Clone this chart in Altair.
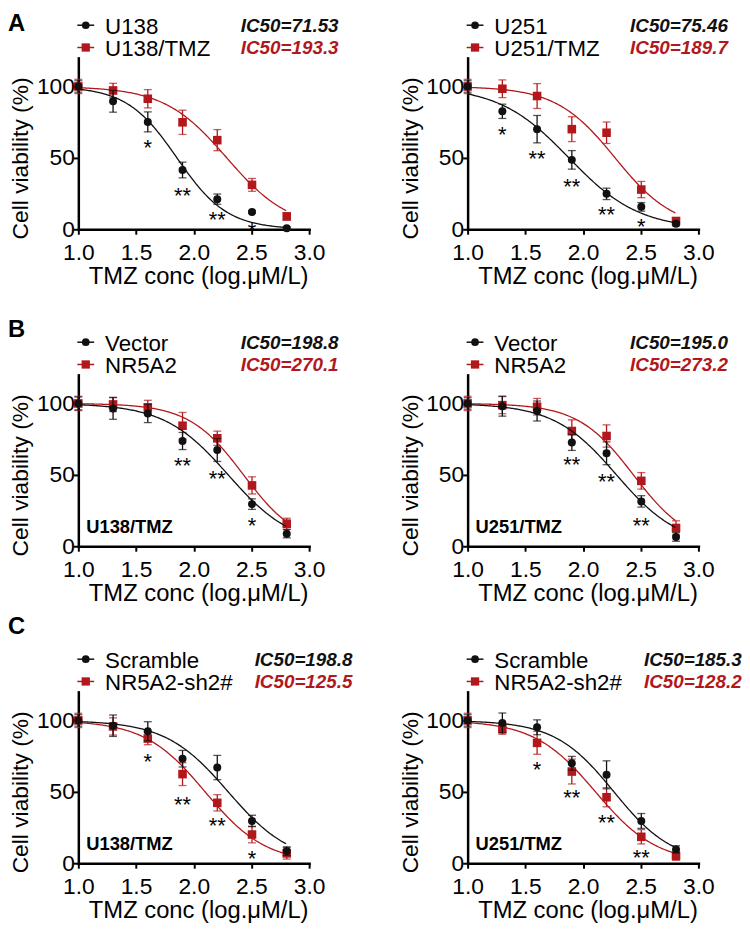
import altair as alt
import pandas as pd

FONT = "Liberation Sans"
BLACK = "#111111"
RED = "#B2181B"

# log10 of TMZ concentrations 10..640 uM
DOSE = [1.0, 1.301, 1.602, 1.903, 2.204, 2.505, 2.806]

# ---------------- Panel A (left) ----------------
A1_labels = ["U138", "U138/TMZ"]
A1_ic50 = ["71.53", "193.3"]
A1_hill = [2.0, 1.6]
A1_black = [100, 89.6, 75.2, 41.5, 21.1, 12.1, 0.7]
A1_black_err = [4, 7.6, 7, 5.5, 3.6, 1, 1]
A1_red = [100, 97.2, 91.4, 74.9, 62.4, 31.1, 9.0]
A1_red_err = [5, 5, 6.4, 8.5, 7.4, 4.5, 2.5]
A1_star_x = [1.602, 1.903, 2.204, 2.505]
A1_star_t = ["*", "**", "**", "*"]
A1_star_y = [61.3, 27.4, 10.4, 3.2]

# ---------------- Panel A (right) ----------------
A2_labels = ["U251", "U251/TMZ"]
A2_ic50 = ["75.46", "189.7"]
A2_hill = [1.43, 1.7]
A2_black = [100, 82.6, 70.1, 48.6, 24.8, 15.7, 3.9]
A2_black_err = [4, 5, 9.6, 6.5, 4, 3, 1.5]
A2_red = [100, 98.4, 93.3, 70.1, 67.6, 27.8, 5.8]
A2_red_err = [5, 6.2, 8.7, 8.7, 7.5, 5.7, 2]
A2_star_x = [1.301, 1.602, 1.903, 2.204, 2.505]
A2_star_t = ["*", "**", "**", "**", "*"]
A2_star_y = [70.4, 53, 34, 13.9, 5.8]

# ---------------- Panel B (left) ----------------
B1_labels = ["Vector", "NR5A2"]
B1_ic50 = ["198.8", "270.1"]
B1_hill = [1.57, 1.84]
B1_black = [100, 96.5, 93, 73.7, 67.4, 29.5, 8.8]
B1_black_err = [4.5, 7.6, 6.4, 6, 8, 3.7, 2.9]
B1_red = [100, 99.3, 97.2, 84.4, 75.6, 42.6, 15.8]
B1_red_err = [5, 5, 5, 9.3, 5, 6, 3.8]
B1_star_x = [1.903, 2.204, 2.505]
B1_star_t = ["**", "**", "*"]
B1_star_y = [60, 51.2, 18.6]

# ---------------- Panel B (right) ----------------
B2_labels = ["Vector", "NR5A2"]
B2_ic50 = ["195.0", "273.2"]
B2_hill = [1.6, 1.81]
B2_black = [100, 98.1, 94.7, 72.6, 65.1, 31.4, 6.5]
B2_black_err = [4, 7, 7, 5.5, 8, 4, 3]
B2_red = [100, 98.8, 97.7, 80.7, 77.2, 45.8, 12.8]
B2_red_err = [5, 6, 5.8, 7.8, 7.8, 5.8, 5]
B2_star_x = [1.903, 2.204, 2.505]
B2_star_t = ["**", "**", "**"]
B2_star_y = [60.9, 48.8, 18.6]

# ---------------- Panel C (left) ----------------
C1_labels = ["Scramble", "NR5A2-sh2#"]
C1_ic50 = ["198.8", "125.5"]
C1_hill = [1.6, 1.65]
C1_black = [100, 96.3, 92.4, 73.2, 67, 29.6, 8.5]
C1_black_err = [4, 7.5, 6.7, 5.8, 8.5, 4, 3]
C1_red = [100, 95.8, 87.3, 62.4, 42.3, 20.1, 6.9]
C1_red_err = [5, 6, 4.3, 8, 5.7, 5.8, 4]
C1_star_x = [1.602, 1.903, 2.204, 2.505]
C1_star_t = ["*", "**", "**", "*"]
C1_star_y = [75, 45, 30, 6.9]

# ---------------- Panel C (right) ----------------
C2_labels = ["Scramble", "NR5A2-sh2#"]
C2_ic50 = ["185.3", "128.2"]
C2_hill = [1.7, 1.63]
C2_black = [100, 98.2, 95.2, 70, 61.9, 29.6, 9.7]
C2_black_err = [4, 7, 5.2, 4.8, 9.8, 5.2, 2.5]
C2_red = [100, 94.2, 84.3, 64.2, 46.2, 18.5, 5.1]
C2_red_err = [5, 3.9, 8, 8.7, 6.7, 5, 3]
C2_star_x = [1.602, 1.903, 2.204, 2.505]
C2_star_t = ["*", "**", "**", "**"]
C2_star_y = [69.3, 49.7, 32.3, 7.6]

CELL_LINES = ["", "", "U138/TMZ", "U251/TMZ", "U138/TMZ", "U251/TMZ"]
LETTERS = ["A", "", "B", "", "C", ""]

W, H = 233, 173

XS = alt.Scale(domain=[1, 3], nice=False, zero=False)
YS = alt.Scale(domain=[0, 120], nice=False, zero=False)
XA = alt.Axis(values=[1, 1.5, 2, 2.5, 3], format=".1f", labelFontSize=23,
              labelColor="black", labelFlush=False, labelOverlap=False,
              labelPadding=7.5, tickSize=5, tickWidth=2, tickColor="black",
              domainColor="black", domainWidth=2.5, domainCap="square",
              grid=False, titleFontSize=24, titleFontWeight="normal",
              titleColor="black", titleX=121, titleY=48,
              titleBaseline="middle", titleAlign="center")
YA = alt.Axis(values=[0, 50, 100], labelFontSize=23, labelColor="black",
              labelPadding=-1, tickSize=5, tickWidth=2, tickColor="black",
              domainColor="black", domainWidth=2.5, domainCap="square",
              grid=False, titleFontSize=23, titleFontWeight="normal",
              titleColor="black", titleX=-58, titleY=101, titleAngle=270,
              titleBaseline="middle", titleAlign="center")
XT = "TMZ conc (log.μM/L)"
YT = "Cell viability (%)"


def X(f):
    return alt.X(f"{f}:Q", scale=XS, axis=XA, title=XT)


def Y(f):
    return alt.Y(f"{f}:Q", scale=YS, axis=YA, title=YT)


def series_layers(vals, errs, ic, hill, color, shape, size):
    df = pd.DataFrame({"dose": DOSE, "v": vals,
                       "lo": [v - e for v, e in zip(vals, errs)],
                       "hi": [v + e for v, e in zip(vals, errs)]})
    curve = alt.Chart(alt.sequence(1.0, 2.8061, 0.01, as_="dose")).transform_calculate(
        v=f"100/(1+pow(10,(datum.dose - log({ic})/LN10)*{hill}))"
    ).mark_line(color=color, strokeWidth=1.3).encode(x=X("dose"), y=Y("v"))
    base = alt.Chart(df)
    rule = base.mark_rule(color=color, strokeWidth=1.3).encode(
        x=X("dose"), y=Y("lo"), y2="hi:Q")
    cap1 = base.mark_tick(color=color, orient="horizontal", size=8,
                          thickness=1.3).encode(x=X("dose"), y=Y("lo"))
    cap2 = base.mark_tick(color=color, orient="horizontal", size=8,
                          thickness=1.3).encode(x=X("dose"), y=Y("hi"))
    pts = base.mark_point(filled=True, shape=shape, size=size, color=color,
                          opacity=1).encode(x=X("dose"), y=Y("v"))
    return [curve, rule, cap1, cap2, pts]


def panel(idx, labels, ic50, hill, black, black_err, red, red_err,
          star_x, star_t, star_y, letter_y, ic_x):
    layers = []
    layers += series_layers(red, red_err, ic50[1], hill[1], RED, "square", 75)
    layers += series_layers(black, black_err, ic50[0], hill[0], BLACK, "circle", 65)

    sdf = pd.DataFrame({"dose": star_x, "v": star_y, "t": star_t})
    layers.append(alt.Chart(sdf).mark_text(fontSize=22, baseline="middle",
                                           align="center", dy=6, color="black")
                  .encode(x=X("dose"), y=Y("v"), text="t:N"))

    # legend (drawn)
    for k, (lab, color, shape, size, ly) in enumerate(
            [(labels[0], BLACK, "circle", 60, -33), (labels[1], RED, "square", 70, -10.5)]):
        ldf = pd.DataFrame({"label": [lab], "ic": ["IC50=" + ic50[k]]})
        lb = alt.Chart(ldf)
        layers.append(lb.mark_rule(color=color, strokeWidth=1.5).encode(
            x=alt.value(-1), x2=alt.value(16), y=alt.value(ly)))
        layers.append(lb.mark_point(filled=True, shape=shape, size=size,
                                    color=color, opacity=1).encode(
            x=alt.value(7.5), y=alt.value(ly)))
        layers.append(lb.mark_text(fontSize=22.5, align="left", baseline="middle",
                                   color="black").encode(
            x=alt.value(27), y=alt.value(ly + 1.5), text="label:N"))
        layers.append(lb.mark_text(fontSize=19, fontStyle="italic",
                                   fontWeight="bold", align="left",
                                   baseline="middle", color=color).encode(
            x=alt.value(ic_x), y=alt.value(ly + 1), text="ic:N"))

    if CELL_LINES[idx]:
        cdf = pd.DataFrame({"c": [CELL_LINES[idx]]})
        layers.append(alt.Chart(cdf).mark_text(fontSize=18.5, fontWeight="bold",
                                               align="left", baseline="middle",
                                               color="black").encode(
            x=alt.value(8), y=alt.value(H - 19), text="c:N"))
    if LETTERS[idx]:
        pdf_ = pd.DataFrame({"p": [LETTERS[idx]]})
        layers.append(alt.Chart(pdf_).mark_text(fontSize=24, fontWeight="bold",
                                                align="left", baseline="middle",
                                                color="black").encode(
            x=alt.value(-71), y=alt.value(letter_y), text="p:N"))
    return alt.layer(*layers).properties(width=W, height=H)


panels = [
    panel(0, A1_labels, A1_ic50, A1_hill, A1_black, A1_black_err, A1_red, A1_red_err,
          A1_star_x, A1_star_t, A1_star_y, -34, 164),
    panel(1, A2_labels, A2_ic50, A2_hill, A2_black, A2_black_err, A2_red, A2_red_err,
          A2_star_x, A2_star_t, A2_star_y, -34, 164),
    panel(2, B1_labels, B1_ic50, B1_hill, B1_black, B1_black_err, B1_red, B1_red_err,
          B1_star_x, B1_star_t, B1_star_y, -45, 164),
    panel(3, B2_labels, B2_ic50, B2_hill, B2_black, B2_black_err, B2_red, B2_red_err,
          B2_star_x, B2_star_t, B2_star_y, -45, 164),
    panel(4, C1_labels, C1_ic50, C1_hill, C1_black, C1_black_err, C1_red, C1_red_err,
          C1_star_x, C1_star_t, C1_star_y, -65, 178),
    panel(5, C2_labels, C2_ic50, C2_hill, C2_black, C2_black_err, C2_red, C2_red_err,
          C2_star_x, C2_star_t, C2_star_y, -65, 178),
]

chart = alt.concat(*panels, columns=2, spacing={"row": 147, "column": 160},
                   bounds="flush").properties(
    padding={"left": 0, "top": 0, "right": 0, "bottom": 0}
).configure(font=FONT).configure_view(stroke=None)

chart.save("out.html", embed_options={"renderer": "svg", "actions": False})
